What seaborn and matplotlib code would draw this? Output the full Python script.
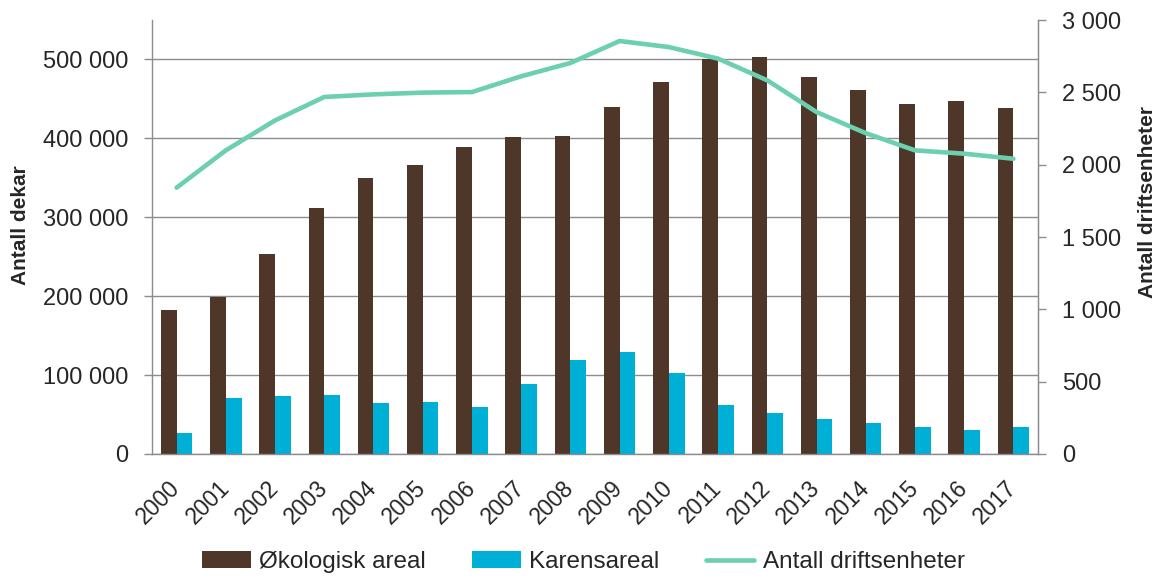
import numpy as np
import pandas as pd
import seaborn as sns
import matplotlib.pyplot as plt
from matplotlib.patches import Patch
from matplotlib.lines import Line2D
from matplotlib.ticker import FuncFormatter, FixedLocator

years = [str(y) for y in range(2000, 2018)]
okologisk = [182000, 199000, 253000, 312000, 350000, 366000, 389000, 402000, 403000,
             440000, 471000, 501000, 503000, 478000, 461000, 444000, 448000, 438000]
karens = [26000, 70500, 74000, 75000, 64000, 66000, 59000, 89000, 118500,
          129500, 103000, 62000, 51500, 44700, 39600, 34000, 30400, 34600]
driftsenheter = [1841, 2099, 2306, 2468, 2486, 2498, 2502, 2611, 2703,
                 2855, 2813, 2733, 2583, 2364, 2218, 2099, 2076, 2041]

brown = "#4e3629"
blue = "#00afd6"
green = "#6ccfb0"
grid_c = "#8c8c8c"

sns.set_style("white")
plt.rcParams['font.family'] = ['Liberation Sans', 'DejaVu Sans']

df = pd.DataFrame({
    "år": years * 2,
    "dekar": okologisk + karens,
    "type": ["Økologisk areal"] * len(years) + ["Karensareal"] * len(years),
})

fig = plt.figure(figsize=(11.62, 5.77), dpi=100)
ax = fig.add_axes([0.1308, 0.2132, 0.7625, 0.7521])

sns.barplot(data=df, x="år", y="dekar", hue="type", ax=ax,
            palette=[brown, blue], saturation=1, width=0.64, gap=0,
            legend=False, linewidth=0)

ax.set_ylim(0, 550000)
ax.set_xlim(-0.5, len(years) - 0.5)
ax.yaxis.set_major_locator(FixedLocator(range(0, 500001, 100000)))
ax.yaxis.set_major_formatter(FuncFormatter(lambda v, p: f"{int(v):,}".replace(",", " ")))
ax.grid(axis="y", color=grid_c, linewidth=1)
ax.set_axisbelow(True)
ax.set_xlabel("")
ax.set_ylabel("Antall dekar", fontsize=15, fontweight="bold")
ax.yaxis.set_label_coords(-0.138, 0.528)

# x ticks between categories, labels centered
ax.set_xticks(np.arange(len(years)))
ax.set_xticklabels(years, rotation=45, ha="right", va="center", rotation_mode="anchor", fontsize=16.5)
ax.set_xticks(np.arange(-0.5, len(years), 1), minor=True)
ax.tick_params(axis="x", which="major", length=0, pad=22)
ax.tick_params(axis="x", which="minor", length=6, color=grid_c, width=1, direction="out")
ax.tick_params(axis="y", length=6, color=grid_c, width=1, direction="out", labelsize=17, pad=11)

ax.spines["top"].set_visible(False)
for s in ["left", "bottom", "right"]:
    ax.spines[s].set_color(grid_c)
    ax.spines[s].set_linewidth(1)

ax2 = ax.twinx()
sns.lineplot(x=np.arange(len(years)), y=driftsenheter, ax=ax2, color=green, linewidth=3.3)
ax2.set_ylim(0, 3000)
ax2.yaxis.set_major_locator(FixedLocator(range(0, 3001, 500)))
ax2.yaxis.set_major_formatter(FuncFormatter(lambda v, p: f"{int(v):,}".replace(",", " ")))
ax2.tick_params(axis="y", length=6, color=grid_c, width=1, direction="out", labelsize=17, pad=11)
ax2.set_ylabel("Antall driftsenheter", fontsize=15, fontweight="bold")
ax2.yaxis.set_label_coords(1.113, 0.58)
ax2.spines["top"].set_visible(False)
ax2.spines["left"].set_visible(False)
ax2.spines["bottom"].set_visible(False)
ax2.spines["right"].set_color(grid_c)
ax2.grid(False)

handles = [Patch(facecolor=brown, edgecolor="none"),
           Patch(facecolor=blue, edgecolor="none"),
           Line2D([0], [0], color=green, linewidth=3.3)]
labels = ["Økologisk areal", "Karensareal", "Antall driftsenheter"]
fig.legend(handles, labels, loc="lower center", bbox_to_anchor=(0.502, -0.031), ncol=3,
           frameon=False, fontsize=17.5, columnspacing=1.9, handlelength=2.0,
           handletextpad=0.35)

fig.savefig("out.png", dpi=100)
